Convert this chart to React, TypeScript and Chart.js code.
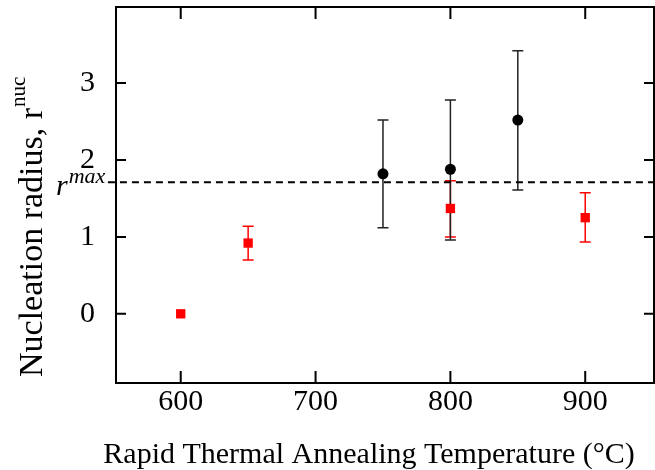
import React, { useEffect, useRef } from "react";
import { Chart, registerables } from "chart.js";

Chart.register(...registerables);

// ---- data ----
const xTicks = [600, 700, 800, 900];
const yTicks = [0, 1, 2, 3];
const xRange = [552, 951];
const yRange = [-0.9, 3.99];

const redTemps = [600, 650, 800, 900];
const redValues = [0.0, 0.92, 1.37, 1.25];
const redUpper = [null, 1.14, 1.73, 1.575];
const redLower = [null, 0.7, 1.0, 0.935];

const blackTemps = [750, 800, 850];
const blackValues = [1.82, 1.88, 2.52];
const blackUpper = [2.52, 2.78, 3.42];
const blackLower = [1.12, 0.96, 1.61];

const rMax = 1.71;
const rMaxSpan = [546, 951];

const xTitle = "Rapid Thermal Annealing Temperature (°C)";
const yTitle = "Nucleation radius, r";
const yTitleSup = "nuc";
const rMaxLabel = "r";
const rMaxSup = "max";

const FONT = "'Liberation Serif', 'Times New Roman', serif";

const framePlugin = {
  id: "frame",
  beforeDatasetsDraw(chart: any) {
    const ctx = chart.ctx;
    const xs = chart.scales.x;
    const ys = chart.scales.y;
    chart.data.datasets.forEach((ds: any) => {
      if (!ds.errUpper) return;
      ctx.save();
      ctx.strokeStyle = ds.errColor;
      ctx.lineWidth = 1.5;
      ds.temps.forEach((t: number, i: number) => {
        const up = ds.errUpper[i];
        const lo = ds.errLower[i];
        if (up == null || lo == null) return;
        const x = xs.getPixelForValue(t);
        const y1 = ys.getPixelForValue(up);
        const y2 = ys.getPixelForValue(lo);
        ctx.beginPath();
        ctx.moveTo(x, y1);
        ctx.lineTo(x, y2);
        ctx.moveTo(x - 5.5, y1);
        ctx.lineTo(x + 5.5, y1);
        ctx.moveTo(x - 5.5, y2);
        ctx.lineTo(x + 5.5, y2);
        ctx.stroke();
      });
      ctx.restore();
    });
  },
  afterDraw(chart: any) {
    const ctx = chart.ctx;
    const a = chart.chartArea;
    const xs = chart.scales.x;
    const ys = chart.scales.y;
    ctx.save();
    ctx.strokeStyle = "#000";
    ctx.lineWidth = 2;
    ctx.strokeRect(a.left, a.top, a.right - a.left, a.bottom - a.top);
    ctx.beginPath();
    xTicks.forEach((v) => {
      const x = xs.getPixelForValue(v);
      ctx.moveTo(x, a.bottom);
      ctx.lineTo(x, a.bottom - 12);
      ctx.moveTo(x, a.top);
      ctx.lineTo(x, a.top + 12);
    });
    yTicks.forEach((v) => {
      const y = ys.getPixelForValue(v);
      ctx.moveTo(a.left, y);
      ctx.lineTo(a.left + 10, y);
      ctx.moveTo(a.right, y);
      ctx.lineTo(a.right - 10, y);
    });
    ctx.stroke();

    ctx.fillStyle = "#000";
    // x title
    ctx.font = `30px ${FONT}`;
    ctx.textAlign = "center";
    ctx.textBaseline = "alphabetic";
    ctx.fillText(xTitle, 369, 463);

    // y title rotated
    ctx.save();
    ctx.translate(42, 377);
    ctx.rotate(-Math.PI / 2);
    ctx.textAlign = "left";
    ctx.font = `34px ${FONT}`;
    ctx.fillText(yTitle, 0, 0);
    const w = ctx.measureText(yTitle).width;
    ctx.font = `21px ${FONT}`;
    ctx.fillText(yTitleSup, w + 1, -17);
    ctx.restore();

    // r^max label
    const yr = ys.getPixelForValue(rMax);
    ctx.textAlign = "left";
    ctx.font = `italic 30px ${FONT}`;
    ctx.fillText(rMaxLabel, 56, yr + 13);
    const wr = ctx.measureText(rMaxLabel).width;
    ctx.font = `italic 22px ${FONT}`;
    ctx.fillText(rMaxSup, 56 + wr + 1, yr + 1);
    ctx.restore();
  },
};

export default function App() {
  const ref = useRef<HTMLCanvasElement>(null);
  useEffect(() => {
    if (!ref.current) return;
    const chart = new Chart(ref.current, {
      type: "scatter",
      data: {
        datasets: [
          {
            label: "red",
            data: redTemps.map((t, i) => ({ x: t, y: redValues[i] })),
            pointStyle: "rect",
            pointRadius: 6.6,
            pointHoverRadius: 6.6,
            backgroundColor: "#ff0000",
            borderColor: "#ff0000",
            borderWidth: 0,
            showLine: false,
            temps: redTemps,
            errUpper: redUpper,
            errLower: redLower,
            errColor: "#ff0000",
          } as any,
          {
            label: "black",
            data: blackTemps.map((t, i) => ({ x: t, y: blackValues[i] })),
            pointStyle: "circle",
            pointRadius: 5.5,
            pointHoverRadius: 5.5,
            backgroundColor: "#000",
            borderColor: "#000",
            borderWidth: 0,
            showLine: false,
            temps: blackTemps,
            errUpper: blackUpper,
            errLower: blackLower,
            errColor: "#222",
          } as any,
          {
            label: "rmax",
            type: "line",
            data: rMaxSpan.map((x) => ({ x, y: rMax })),
            borderColor: "#000",
            borderWidth: 2,
            borderDash: [7, 5],
            pointRadius: 0,
            showLine: true,
            fill: false,
            clip: false,
          } as any,
        ],
      },
      options: {
        responsive: false,
        animation: false,
        events: [],
        layout: { autoPadding: false, padding: { top: 7, right: 1, left: 0, bottom: 0 } },
        plugins: { legend: { display: false }, tooltip: { enabled: false } },
        scales: {
          x: {
            type: "linear",
            min: xRange[0],
            max: xRange[1],
            grid: { display: false },
            border: { display: false },
            ticks: {
              color: "#000",
              font: { family: FONT, size: 30, lineHeight: 1 },
              padding: -4,
            },
            afterBuildTicks: (s: any) => {
              s.ticks = xTicks.map((v) => ({ value: v }));
            },
            afterFit: (s: any) => {
              s.height = 87;
              s.paddingLeft = 0;
              s.paddingRight = 0;
            },
          },
          y: {
            type: "linear",
            min: yRange[0],
            max: yRange[1],
            grid: { display: false },
            border: { display: false },
            ticks: {
              color: "#000",
              font: { family: FONT, size: 30, lineHeight: 1 },
              padding: 13,
            },
            afterBuildTicks: (s: any) => {
              s.ticks = yTicks.map((v) => ({ value: v }));
            },
            afterFit: (s: any) => {
              s.width = 116;
              s.paddingTop = 0;
              s.paddingBottom = 0;
            },
          },
        },
      } as any,
      plugins: [framePlugin],
    });
    return () => chart.destroy();
  }, []);
  return (
    <div style={{ position: "absolute", left: 0, top: 0, width: 655, height: 470, background: "#fff" }}>
      <canvas ref={ref} width={655} height={470} />
    </div>
  );
}
